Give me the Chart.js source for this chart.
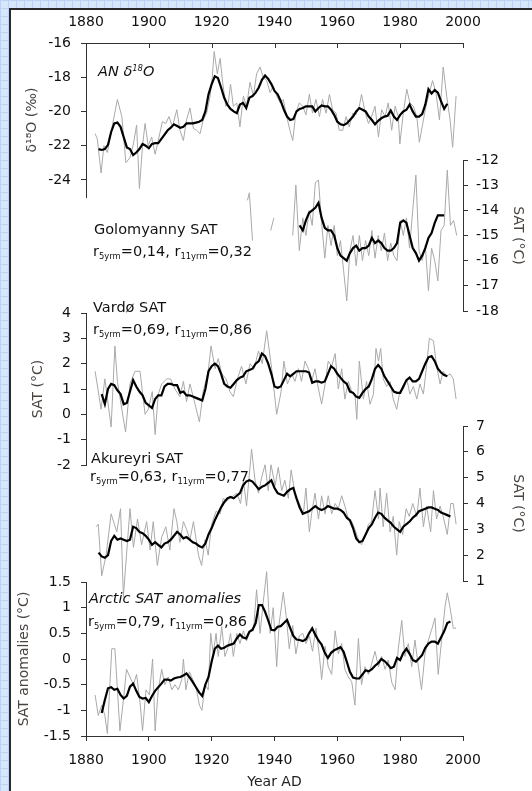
<!DOCTYPE html>
<html>
<head>
<meta charset="utf-8">
<script src="https://cdn.jsdelivr.net/npm/chart.js@4.4.1/dist/chart.umd.min.js"></script>
<style>
html,body{margin:0;padding:0;}
body{width:532px;height:791px;position:relative;overflow:hidden;background-color:#d6e6fb;
  background-image:linear-gradient(#bcd2f2 1px, transparent 1px),linear-gradient(90deg,#bcd2f2 1px,transparent 1px);
  background-size:8px 8px;}
#paper{position:absolute;left:9px;top:8px;width:523px;height:783px;background:#fff;border-left:2px solid #2a2a2a;border-top:2px solid #2a2a2a;box-sizing:border-box;}
canvas{position:absolute;left:0;top:0;}
.lbl{position:absolute;white-space:nowrap;font-family:'DejaVu Sans',sans-serif;font-size:14.5px;line-height:18px;color:#111;}
.lbl .sub{font-size:58%;position:relative;top:0.35em;}
.lbl .sup{font-size:58%;position:relative;top:-0.55em;}
</style>
</head>
<body>
<div id="paper"></div>
<canvas id="c1" width="532" height="791"></canvas>
<canvas id="c2" width="532" height="791"></canvas>
<canvas id="c3" width="532" height="791"></canvas>
<canvas id="c4" width="532" height="791"></canvas>
<canvas id="c5" width="532" height="791"></canvas>

<div class="lbl" style="left:98px;top:62px;font-style:italic">AN δ<span class="sup">18</span>O</div>
<div class="lbl" style="left:94px;top:220px">Golomyanny SAT</div>
<div class="lbl" style="left:93px;top:242px">r<span class="sub">5yrm</span>=0,14, r<span class="sub">11yrm</span>=0,32</div>
<div class="lbl" style="left:93px;top:298px">Vardø SAT</div>
<div class="lbl" style="left:93px;top:320px">r<span class="sub">5yrm</span>=0,69, r<span class="sub">11yrm</span>=0,86</div>
<div class="lbl" style="left:91px;top:449px">Akureyri SAT</div>
<div class="lbl" style="left:90px;top:467px">r<span class="sub">5yrm</span>=0,63, r<span class="sub">11yrm</span>=0,77</div>
<div class="lbl" style="left:89px;top:589px;font-style:italic">Arctic SAT anomalies</div>
<div class="lbl" style="left:88px;top:612px">r<span class="sub">5yrm</span>=0,79, r<span class="sub">11yrm</span>=0,86</div>

<script>
// ---------- DATA ----------
const xTicks = [1880, 1900, 1920, 1940, 1960, 1980, 2000];

// Panel 1: AN delta18O
const anTicks = [-24, -22, -20, -18, -16];
const anGray = [[1882.9,-21.3],[1883.6,-21.6],[1884.8,-23.6],[1885.7,-22.0],[1886.8,-22.4],[1888.2,-21.0],[1890.0,-19.3],[1891.4,-20.3],[1892.7,-23.0],[1894.0,-22.7],[1895.1,-21.9],[1896.1,-20.8],[1897.0,-24.5],[1898.0,-22.0],[1898.8,-20.7],[1899.8,-22.0],[1900.9,-21.5],[1902.0,-22.5],[1903.0,-21.7],[1904.3,-20.6],[1905.4,-20.7],[1906.4,-20.3],[1907.5,-20.9],[1908.9,-19.9],[1909.9,-21.1],[1911.0,-21.7],[1912.0,-20.5],[1913.1,-19.8],[1914.2,-21.0],[1915.2,-21.1],[1916.3,-21.3],[1917.3,-20.5],[1918.4,-20.1],[1919.5,-19.1],[1920.2,-18.0],[1920.8,-16.5],[1921.8,-17.8],[1922.7,-16.9],[1923.5,-18.3],[1924.5,-19.7],[1925.3,-19.5],[1926.0,-18.4],[1926.9,-19.7],[1928.0,-19.5],[1929.0,-20.9],[1930.1,-19.1],[1931.1,-19.7],[1932.2,-18.3],[1933.3,-19.1],[1934.3,-17.8],[1935.4,-17.4],[1936.4,-18.0],[1937.5,-18.2],[1938.6,-18.9],[1939.6,-18.5],[1940.7,-19.1],[1941.8,-19.5],[1942.8,-19.3],[1943.9,-20.3],[1944.9,-21.1],[1945.8,-21.7],[1946.8,-20.1],[1947.9,-19.5],[1949.0,-19.7],[1950.0,-20.2],[1951.1,-19.0],[1952.1,-20.1],[1953.2,-19.3],[1954.3,-20.3],[1955.3,-19.3],[1956.4,-20.1],[1957.5,-19.0],[1958.5,-19.9],[1959.6,-20.1],[1960.6,-21.1],[1961.7,-21.1],[1962.8,-20.3],[1963.8,-20.9],[1964.9,-20.1],[1965.9,-20.2],[1967.0,-19.7],[1967.7,-19.0],[1968.8,-20.0],[1969.9,-20.7],[1970.9,-20.3],[1972.0,-19.7],[1973.1,-21.5],[1974.1,-19.9],[1975.2,-20.3],[1976.2,-19.5],[1977.3,-21.1],[1978.4,-19.7],[1979.4,-20.3],[1979.9,-21.9],[1981.0,-20.1],[1982.1,-18.7],[1983.1,-19.5],[1984.2,-19.7],[1985.3,-20.3],[1986.1,-21.8],[1987.2,-20.7],[1988.2,-19.7],[1989.3,-18.9],[1990.3,-18.2],[1991.4,-18.9],[1992.5,-20.5],[1993.7,-17.4],[1994.8,-19.1],[1995.9,-20.5],[1996.7,-22.1],[1997.8,-19.1]];
const anBlackStart = 1884;
const anBlack = [-22.2,-22.25,-22.2,-21.95,-21.2,-20.7,-20.65,-20.9,-21.5,-22.1,-22.2,-22.55,-22.4,-22.2,-21.9,-22.0,-22.15,-21.9,-21.85,-21.85,-21.6,-21.35,-21.1,-20.95,-20.75,-20.85,-20.95,-20.9,-20.7,-20.7,-20.7,-20.65,-20.6,-20.5,-20.0,-19.0,-18.4,-17.95,-18.05,-18.6,-19.2,-19.6,-19.85,-20.0,-20.1,-19.6,-19.5,-19.8,-19.2,-19.1,-18.9,-18.6,-18.15,-17.9,-18.1,-18.4,-18.8,-19.0,-19.4,-19.9,-20.3,-20.5,-20.45,-20.0,-19.85,-19.8,-19.7,-19.7,-19.7,-20.0,-19.8,-19.65,-19.7,-19.7,-19.9,-20.2,-20.6,-20.75,-20.8,-20.7,-20.5,-20.3,-20.0,-19.8,-19.9,-20.0,-20.3,-20.5,-20.75,-20.55,-20.4,-20.3,-20.25,-19.95,-20.3,-20.5,-20.2,-20.0,-19.9,-19.6,-20.0,-20.3,-20.3,-20.15,-19.6,-18.7,-18.95,-18.75,-18.9,-19.4,-19.85,-19.55];

// Panel 2: Golomyanny SAT
const golTicks = [-18, -17, -16, -15, -14, -13, -12];
const golGray = [[1931.4,-13.6],[1932.0,-13.3],[1933.0,-15.2],[1934,null],[1938.8,-14.8],[1939.8,-14.3],[1941,null],[1945.8,-15.0],[1946.8,-13.0],[1947.9,-15.6],[1949,-14.3],[1950,-15.0],[1951,-14.0],[1952,-14.6],[1953,-12.9],[1954,-12.8],[1955,-14.5],[1956,-15.9],[1957,-14.6],[1958,-15.4],[1959,-14.6],[1960,-15.8],[1961,-15.2],[1962,-16.4],[1963,-17.6],[1964,-15.6],[1965,-15.0],[1966,-16.2],[1967,-15.0],[1968,-16.0],[1969,-15.2],[1970,-15.8],[1971,-14.8],[1972,-15.9],[1973,-15.0],[1974,-15.6],[1975,-14.9],[1976,-16.0],[1977,-15.3],[1978,-15.8],[1979,-16.0],[1980,-14.4],[1981,-15.0],[1982,-14.3],[1983,-15.5],[1984,-14.0],[1985,-12.6],[1986,-15.6],[1987,-16.0],[1988,-15.4],[1989,-17.2],[1990,-15.5],[1991,-16.0],[1992,-16.8],[1993,-14.8],[1994,-14.6],[1995,-12.4],[1996,-14.6],[1997,-14.4],[1998,-15.0]];
const golBlackStart = 1948;
const golBlack = [-14.6,-14.8,-14.4,-14.1,-14.0,-13.9,-13.7,-14.3,-14.7,-14.8,-14.8,-15.0,-15.5,-15.8,-15.9,-16.0,-15.7,-15.5,-15.4,-15.6,-15.5,-15.5,-15.4,-15.1,-15.3,-15.2,-15.3,-15.5,-15.6,-15.6,-15.5,-15.3,-14.5,-14.4,-14.5,-15.0,-15.5,-15.7,-16.0,-15.8,-15.5,-15.1,-14.9,-14.5,-14.2,-14.2,-14.2];

// Panel 3: Vardø SAT
const varTicks = [-2, -1, 0, 1, 2, 3, 4];
const varGray = [[1882.9,1.7],[1884.8,0.2],[1886.0,1.4],[1888.0,-0.5],[1889.2,2.7],[1890.0,1.3],[1891.4,0.2],[1892.6,-0.7],[1894.0,1.2],[1895.6,1.7],[1897.2,1.7],[1898.8,0.0],[1899.8,0.2],[1901.1,0.9],[1902.0,-0.8],[1903.0,0.8],[1904.1,1.2],[1905.7,1.4],[1906.9,1.4],[1908.3,1.0],[1909.9,0.7],[1911.0,1.3],[1912.0,0.5],[1913.1,1.2],[1914.7,0.4],[1916.1,-0.3],[1917.3,0.9],[1918.9,1.7],[1919.8,2.7],[1921.1,1.8],[1922.1,2.2],[1923.2,1.6],[1924.6,1.4],[1925.8,0.9],[1926.9,0.7],[1928.2,1.4],[1929.5,1.9],[1930.9,1.2],[1932.2,2.0],[1933.5,1.8],[1934.9,2.5],[1936.1,2.0],[1937.5,3.3],[1939.1,1.8],[1940.7,0.0],[1942.1,0.9],[1943.0,2.1],[1944.1,1.2],[1945.5,1.6],[1946.5,1.3],[1947.6,1.8],[1948.6,1.3],[1949.7,2.1],[1950.8,1.8],[1951.8,1.3],[1952.9,1.8],[1954.0,1.0],[1955.0,0.4],[1956.1,1.2],[1957.1,2.1],[1958.2,1.9],[1959.3,2.4],[1960.3,1.0],[1961.4,1.8],[1962.4,0.6],[1963.5,1.3],[1964.6,0.9],[1965.6,0.8],[1966.2,-0.2],[1967.0,2.1],[1968.3,0.6],[1969.3,1.3],[1970.4,0.4],[1971.5,0.8],[1972.3,2.6],[1973.1,2.1],[1973.8,2.6],[1974.6,1.4],[1975.7,1.1],[1976.8,1.3],[1977.8,0.6],[1978.9,0.2],[1979.9,0.9],[1981.0,1.0],[1982.1,1.4],[1983.1,0.8],[1984.2,1.1],[1985.3,0.6],[1986.3,1.2],[1987.4,0.8],[1988.4,1.9],[1989.3,3.0],[1990.6,2.9],[1991.6,1.9],[1992.7,1.2],[1993.7,1.7],[1994.8,1.5],[1995.9,1.6],[1996.9,1.4],[1997.8,0.6]];
const varBlackStart = 1885;
const varBlack = [0.8,0.4,1.0,1.2,1.15,0.95,0.8,0.4,0.45,0.9,1.35,1.1,0.9,0.75,0.45,0.35,0.25,0.6,0.75,0.75,1.1,1.2,1.2,1.15,1.15,0.85,0.9,0.75,0.75,0.7,0.65,0.6,0.55,1.0,1.7,1.9,2.0,1.9,1.6,1.2,1.1,1.05,1.2,1.35,1.45,1.5,1.7,1.75,1.8,2.0,2.1,2.4,2.3,2.0,1.6,1.1,1.05,1.1,1.35,1.6,1.5,1.6,1.7,1.7,1.7,1.7,1.65,1.25,1.3,1.3,1.25,1.3,1.6,1.9,1.8,1.6,1.45,1.3,1.2,0.9,0.85,0.7,0.65,0.85,1.0,1.1,1.4,1.8,1.95,1.8,1.5,1.3,1.1,0.9,0.85,0.85,1.1,1.35,1.45,1.3,1.3,1.4,1.7,2.0,2.25,2.3,2.1,1.8,1.65,1.55,1.5];

// Panel 4: Akureyri SAT
const akuTicks = [1, 2, 3, 4, 5, 6, 7];
const akuGray = [[1883.2,3.1],[1883.9,3.2],[1885.0,1.2],[1886.4,2.0],[1888.0,3.6],[1889.8,2.9],[1891.0,3.8],[1891.9,0.4],[1894.0,3.8],[1895.1,2.3],[1896.4,3.4],[1897.7,2.4],[1899.3,3.3],[1900.4,2.2],[1901.4,3.3],[1902.7,1.6],[1904.1,2.7],[1905.4,3.1],[1906.7,2.2],[1908.0,3.8],[1908.9,3.3],[1909.9,2.5],[1911.0,3.3],[1912.0,3.0],[1913.1,2.6],[1914.2,3.3],[1915.8,2.0],[1916.8,1.6],[1917.9,2.6],[1918.9,2.0],[1920.0,3.2],[1921.4,3.7],[1922.7,3.6],[1923.7,4.2],[1924.8,4.1],[1925.8,4.2],[1926.9,4.3],[1928.0,4.4],[1929.2,4.0],[1930.1,4.9],[1931.1,3.9],[1932.7,6.1],[1933.8,4.9],[1934.9,4.4],[1935.9,5.0],[1937.0,5.5],[1938.0,4.5],[1938.9,5.5],[1940.2,4.7],[1941.2,5.4],[1942.3,4.5],[1943.3,4.9],[1944.4,4.2],[1945.3,5.3],[1946.5,4.4],[1947.9,4.0],[1949.2,3.6],[1950.0,4.6],[1951.1,2.9],[1951.8,3.6],[1952.9,4.4],[1954.0,3.4],[1955.0,4.3],[1956.1,3.6],[1957.1,4.3],[1958.2,3.6],[1959.3,4.0],[1960.3,3.8],[1961.4,4.3],[1962.4,3.9],[1963.5,3.4],[1964.6,3.3],[1965.6,3.0],[1966.7,2.6],[1967.7,2.4],[1968.8,2.7],[1969.9,3.2],[1970.9,3.3],[1972.0,4.5],[1973.1,3.4],[1973.6,4.6],[1974.6,3.1],[1975.7,4.4],[1976.8,2.9],[1977.8,3.5],[1978.9,2.0],[1979.7,3.3],[1980.8,2.8],[1981.9,3.8],[1982.9,3.5],[1984.0,4.0],[1985.3,3.5],[1986.3,4.6],[1987.4,3.1],[1988.4,3.9],[1989.7,2.9],[1990.6,4.5],[1991.6,3.4],[1992.7,3.9],[1993.7,3.5],[1995.0,2.8],[1996.1,4.0],[1996.9,4.0],[1997.8,3.2]];
const akuBlackStart = 1884;
const akuBlack = [2.1,1.95,1.9,2.0,2.55,2.75,2.6,2.65,2.6,2.55,2.6,3.1,3.05,2.9,2.85,2.75,2.6,2.4,2.5,2.4,2.3,2.45,2.5,2.6,2.75,2.9,2.8,2.65,2.7,2.6,2.5,2.45,2.35,2.3,2.45,2.8,3.05,3.35,3.6,3.85,4.05,4.2,4.25,4.2,4.3,4.4,4.7,4.85,4.9,4.85,4.7,4.55,4.65,4.7,4.8,4.9,4.6,4.4,4.35,4.3,4.45,4.55,4.6,4.2,3.85,3.6,3.65,3.7,3.8,3.9,3.8,3.75,3.8,3.9,3.85,3.8,3.8,3.75,3.65,3.45,3.35,3.05,2.65,2.5,2.55,2.8,3.05,3.2,3.45,3.65,3.6,3.45,3.35,3.25,3.1,3.0,2.9,3.1,3.2,3.3,3.45,3.55,3.7,3.75,3.8,3.85,3.85,3.8,3.75,3.65,3.6,3.55,3.5];

// Panel 5: Arctic SAT anomalies
const arcTicks = [-1.5, -1, -0.5, 0, 0.5, 1, 1.5];
const arcGray = [[1882.9,-0.7],[1883.9,-1.1],[1885.0,-0.9],[1886.0,-1.1],[1886.8,-1.45],[1888.2,0.2],[1889.2,0.2],[1890.0,-0.6],[1890.8,-1.4],[1891.9,-0.8],[1892.9,-0.2],[1894.0,-0.35],[1895.1,-0.5],[1896.1,-0.3],[1897.2,-0.85],[1898.0,-1.4],[1899.1,-0.6],[1900.2,-0.7],[1901.2,0.0],[1902.0,-1.4],[1903.0,-0.6],[1904.1,-0.2],[1905.1,-0.5],[1906.2,-0.35],[1907.3,-0.6],[1908.3,-0.5],[1909.4,-0.6],[1910.5,-0.4],[1911.0,0.0],[1911.8,-0.6],[1912.9,-0.25],[1914.0,-0.4],[1915.0,-0.55],[1916.1,-0.9],[1916.9,-1.0],[1917.9,-0.5],[1918.9,-0.6],[1919.7,0.5],[1920.5,0.1],[1921.4,0.5],[1922.1,0.05],[1923.2,0.63],[1924.2,0.05],[1925.1,0.2],[1926.0,0.5],[1926.9,0.05],[1928.0,0.5],[1929.0,0.3],[1930.1,0.55],[1931.1,0.35],[1932.2,0.55],[1933.3,0.55],[1934.3,1.35],[1935.4,0.5],[1936.4,1.1],[1937.5,1.7],[1938.6,0.5],[1939.6,1.0],[1940.7,-0.15],[1941.5,0.7],[1942.8,1.3],[1943.7,0.85],[1944.7,0.2],[1945.8,0.65],[1946.8,0.1],[1947.9,0.45],[1949.0,0.5],[1950.0,0.3],[1951.1,0.45],[1952.1,0.15],[1953.2,0.6],[1954.3,0.05],[1955.0,-0.4],[1956.1,0.25],[1957.1,-0.15],[1958.2,-0.3],[1959.3,0.55],[1960.3,0.1],[1961.4,0.3],[1962.4,-0.2],[1963.5,-0.35],[1964.6,-0.45],[1965.6,-0.9],[1966.7,0.4],[1967.7,-0.5],[1968.8,-0.15],[1969.9,-0.3],[1970.9,-0.1],[1972.0,0.15],[1973.1,-0.15],[1974.1,0.05],[1975.2,-0.2],[1976.2,-0.02],[1977.3,-0.45],[1978.4,-0.6],[1979.4,0.2],[1980.5,0.75],[1981.5,0.05],[1982.6,0.3],[1983.7,-0.15],[1984.7,0.37],[1985.8,-0.15],[1986.8,-0.6],[1987.9,0.1],[1989.0,0.37],[1990.0,0.57],[1991.1,0.8],[1992.1,-0.3],[1993.2,0.37],[1994.3,1.03],[1995.0,1.29],[1996.0,0.96],[1996.9,0.6],[1997.8,0.6]];
const arcBlackStart = 1885;
const arcBlack = [-1.05,-0.8,-0.57,-0.55,-0.6,-0.58,-0.7,-0.77,-0.72,-0.54,-0.48,-0.62,-0.74,-0.77,-0.76,-0.84,-0.72,-0.62,-0.55,-0.48,-0.4,-0.4,-0.42,-0.38,-0.36,-0.35,-0.32,-0.28,-0.36,-0.45,-0.55,-0.65,-0.72,-0.5,-0.35,-0.05,0.2,0.26,0.2,0.22,0.26,0.28,0.3,0.4,0.48,0.42,0.4,0.53,0.57,0.7,1.05,1.05,0.92,0.75,0.57,0.56,0.63,0.64,0.7,0.76,0.6,0.45,0.38,0.37,0.35,0.38,0.5,0.6,0.47,0.36,0.28,0.12,0.02,0.12,0.17,0.2,0.23,0.14,-0.05,-0.25,-0.36,-0.38,-0.38,-0.3,-0.22,-0.24,-0.2,-0.13,-0.08,0.0,-0.04,-0.1,-0.18,-0.15,0.02,-0.02,0.12,0.2,0.1,-0.02,-0.05,0.01,0.08,0.22,0.3,0.34,0.34,0.3,0.42,0.54,0.7,0.73];

// ---------- RENDERING ----------
const FAMILY = "'DejaVu Sans', 'Liberation Sans', sans-serif";
const AXIS = '#333333';
const TEXT = '#111111';
const TITLE = '#4a4440';
const GRAY = '#a9a9a9';
const W = 532, H = 791;
const PLOT_L = 86, PLOT_R = 463;

const pairs = arr => arr.map(([x, y]) => ({x, y}));
const annual = (start, vals) => vals.map((y, i) => ({x: start + i, y}));

const innerTopTicks = {
  id: 'innerTopTicks',
  afterDraw(chart) {
    const xs = chart.scales.x;
    if (!xs.options.display || xs.options.position !== 'top') return;
    const ctx = chart.ctx, y0 = chart.chartArea.top;
    ctx.save();
    ctx.strokeStyle = AXIS; ctx.lineWidth = 1;
    ctx.beginPath();
    xs.ticks.forEach(t => {
      const px = Math.round(xs.getPixelForValue(t.value)) + 0.5;
      ctx.moveTo(px, y0); ctx.lineTo(px, y0 + 5);
    });
    ctx.stroke();
    ctx.restore();
  }
};

function panel(id, o) {
  const left = o.side === 'left';
  const xPos = o.xPos || null;
  const xScale = {
    type: 'linear', min: 1880, max: 2000,
    display: !!xPos, position: xPos || 'bottom',
    afterBuildTicks: s => { s.ticks = xTicks.map(v => ({value: v})); },
    afterFit: s => {
      if (!s.options.display) return;
      s.height = xPos === 'top' ? 43 : 55;
      s.paddingLeft = 0; s.paddingRight = 0; s.paddingTop = 0; s.paddingBottom = 0;
    },
    grid: {drawOnChartArea: false, drawTicks: xPos === 'bottom', tickLength: 5, color: AXIS, lineWidth: 1},
    border: {display: true, color: AXIS, width: 1},
    ticks: {font: {family: FAMILY, size: 14}, color: TEXT, padding: xPos === 'top' ? 12 : 11,
            maxRotation: 0, autoSkip: false, callback: v => String(v)},
    title: {display: xPos === 'bottom', text: 'Year AD', font: {family: FAMILY, size: 14}, color: '#222',
            padding: {top: 0, bottom: 0}}
  };
  const yScale = {
    type: 'linear', position: o.side, min: o.min, max: o.max,
    afterBuildTicks: s => { s.ticks = o.ticks.map(v => ({value: v})); },
    afterFit: s => {
      s.width = left ? PLOT_L : (W - PLOT_R);
      s.paddingLeft = 0; s.paddingRight = 0; s.paddingTop = 0; s.paddingBottom = 0;
    },
    grid: {drawOnChartArea: false, drawTicks: true, tickLength: 5, color: AXIS, lineWidth: 1},
    border: {display: true, color: AXIS, width: 1},
    ticks: {font: {family: FAMILY, size: 14}, color: TEXT, padding: left ? 10 : 8, callback: v => String(v)},
    title: {display: true, text: o.title, font: {family: FAMILY, size: 14}, color: TITLE,
            padding: {top: o.titlePad, bottom: 0}}
  };
  const pad = left
    ? {left: 0, right: W - PLOT_R, top: o.top, bottom: H - o.bottom}
    : {left: PLOT_L, right: 0, top: o.top, bottom: H - o.bottom};
  if (xPos === 'top') pad.top = 0;
  if (xPos === 'bottom') pad.bottom = 0;
  return new Chart(document.getElementById(id), {
    type: 'line',
    data: {
      datasets: [
        {data: o.black, borderColor: '#000', borderWidth: 2.2, pointRadius: 0, clip: false, tension: 0, spanGaps: false},
        {data: o.gray, borderColor: GRAY, borderWidth: 1, pointRadius: 0, clip: false, tension: 0, spanGaps: false}
      ]
    },
    options: {
      responsive: false, animation: false, events: [], devicePixelRatio: 1,
      layout: {padding: pad},
      plugins: {legend: {display: false}, tooltip: {enabled: false}},
      scales: {x: xScale, y: yScale}
    },
    plugins: [innerTopTicks]
  });
}

panel('c1', {side: 'left', xPos: 'top', top: 43, bottom: 197, min: -25, max: -16, ticks: anTicks,
  title: 'δ¹⁸O (‰)', titlePad: 24, gray: pairs(anGray), black: annual(anBlackStart, anBlack)});
panel('c2', {side: 'right', top: 160, bottom: 311, min: -18, max: -12, ticks: golTicks,
  title: 'SAT (°C)', titlePad: 6, gray: pairs(golGray), black: annual(golBlackStart, golBlack)});
panel('c3', {side: 'left', top: 313, bottom: 465, min: -2, max: 4, ticks: varTicks,
  title: 'SAT (°C)', titlePad: 30, gray: pairs(varGray), black: annual(varBlackStart, varBlack)});
panel('c4', {side: 'right', top: 426, bottom: 581, min: 1, max: 7, ticks: akuTicks,
  title: 'SAT (°C)', titlePad: 6, gray: pairs(akuGray), black: annual(akuBlackStart, akuBlack)});
panel('c5', {side: 'left', xPos: 'bottom', top: 582, bottom: 736, min: -1.5, max: 1.5, ticks: arcTicks,
  title: 'SAT anomalies (°C)', titlePad: 16, gray: pairs(arcGray), black: annual(arcBlackStart, arcBlack)});
</script>
</body>
</html>
